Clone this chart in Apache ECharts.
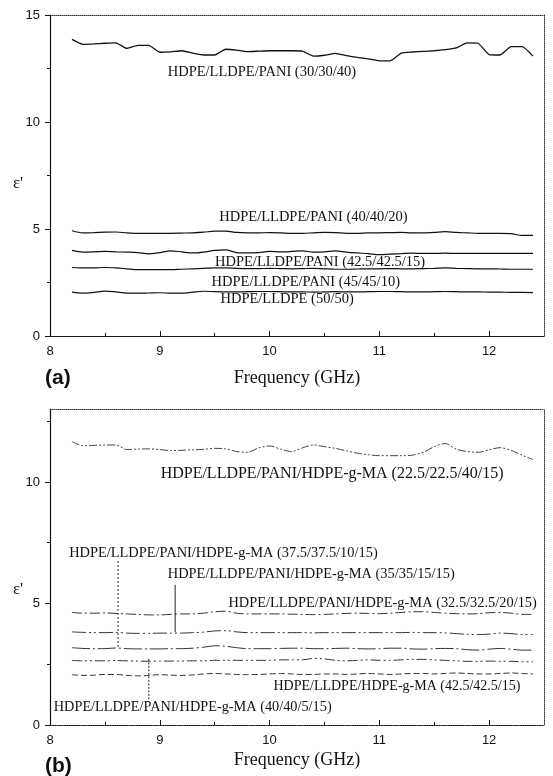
<!DOCTYPE html>
<html><head><meta charset="utf-8">
<script src="https://cdn.jsdelivr.net/npm/echarts@6/dist/echarts.min.js"></script>
<style>html,body{margin:0;padding:0;background:#fff}#c{width:553px;height:776px}</style>
</head><body><div id="c"></div>
<script>
// Frequency grid (GHz)
var freq = [8.2,8.3,8.4,8.5,8.6,8.7,8.8,8.9,9.0,9.1,9.2,9.3,9.4,9.5,9.6,9.7,9.8,9.9,10.0,10.1,10.2,10.3,10.4,10.5,10.6,10.7,10.8,10.9,11.0,11.1,11.2,11.3,11.4,11.5,11.6,11.7,11.8,11.9,12.0,12.1,12.2,12.3,12.4];

// Panel (a)
var a_30_30_40 = [13.86,13.63,13.65,13.68,13.70,13.44,13.58,13.58,13.26,13.28,13.33,13.22,13.13,13.13,13.40,13.36,13.29,13.31,13.33,13.33,13.33,13.31,13.08,13.12,13.21,13.10,13.02,12.95,12.86,12.86,13.22,13.27,13.30,13.33,13.38,13.46,13.70,13.68,13.15,13.13,13.52,13.52,13.08];
var a_40_40_20 = [4.92,4.82,4.83,4.85,4.86,4.82,4.80,4.80,4.80,4.80,4.81,4.82,4.85,4.90,4.90,4.84,4.82,4.82,4.83,4.82,4.80,4.80,4.82,4.84,4.83,4.80,4.80,4.82,4.82,4.83,4.84,4.82,4.82,4.84,4.88,4.84,4.82,4.80,4.80,4.80,4.78,4.70,4.70];
var a_425_425_15 = [4.00,3.92,3.93,3.95,3.93,3.92,3.90,3.84,3.90,3.98,3.93,3.88,3.92,4.00,4.02,3.90,3.88,3.90,3.95,3.93,3.95,3.98,3.92,3.93,3.98,3.92,3.88,3.85,3.80,3.83,3.85,3.87,3.86,3.86,3.87,3.86,3.86,3.86,3.86,3.86,3.86,3.86,3.86];
var a_45_45_10 = [3.20,3.18,3.18,3.20,3.18,3.14,3.10,3.10,3.10,3.10,3.12,3.14,3.16,3.18,3.18,3.16,3.15,3.15,3.16,3.15,3.14,3.15,3.16,3.14,3.12,3.12,3.13,3.14,3.14,3.15,3.14,3.14,3.15,3.16,3.18,3.16,3.15,3.14,3.14,3.13,3.12,3.12,3.12];
var a_50_50 = [2.05,2.00,2.04,2.10,2.06,2.00,2.00,2.01,2.02,2.00,2.00,2.05,2.09,2.07,2.06,2.06,2.07,2.08,2.08,2.07,2.06,2.06,2.05,2.06,2.07,2.06,2.06,2.07,2.08,2.08,2.07,2.06,2.06,2.07,2.08,2.07,2.06,2.06,2.05,2.05,2.04,2.04,2.03];

// Panel (b)
var b_225 = [11.66,11.49,11.50,11.52,11.52,11.33,11.35,11.36,11.33,11.29,11.30,11.32,11.34,11.38,11.36,11.25,11.22,11.40,11.48,11.35,11.25,11.40,11.52,11.45,11.38,11.28,11.18,11.12,11.08,11.08,11.08,11.10,11.22,11.45,11.58,11.35,11.25,11.22,11.32,11.41,11.30,11.10,10.92];
var b_325 = [4.63,4.60,4.60,4.61,4.59,4.57,4.55,4.53,4.53,4.55,4.57,4.57,4.60,4.66,4.68,4.60,4.57,4.57,4.57,4.57,4.56,4.55,4.54,4.55,4.57,4.59,4.60,4.59,4.58,4.60,4.63,4.66,4.66,4.63,4.60,4.58,4.57,4.58,4.62,4.63,4.60,4.55,4.55];
var b_35 = [3.83,3.81,3.80,3.80,3.81,3.78,3.77,3.77,3.78,3.78,3.78,3.80,3.82,3.87,3.88,3.83,3.80,3.80,3.80,3.80,3.80,3.80,3.79,3.80,3.80,3.80,3.80,3.80,3.80,3.80,3.80,3.81,3.80,3.80,3.79,3.76,3.73,3.72,3.74,3.78,3.76,3.72,3.72];
var b_375 = [3.18,3.15,3.14,3.14,3.17,3.14,3.13,3.13,3.13,3.14,3.14,3.16,3.20,3.26,3.24,3.18,3.14,3.14,3.14,3.15,3.16,3.16,3.14,3.14,3.15,3.16,3.14,3.13,3.14,3.16,3.16,3.13,3.12,3.14,3.15,3.14,3.10,3.08,3.12,3.15,3.12,3.08,3.08];
var b_40 = [2.66,2.64,2.64,2.64,2.65,2.64,2.63,2.62,2.63,2.63,2.63,2.64,2.64,2.66,2.66,2.66,2.66,2.66,2.66,2.68,2.68,2.68,2.74,2.72,2.66,2.64,2.66,2.68,2.66,2.66,2.68,2.70,2.70,2.68,2.66,2.64,2.62,2.62,2.63,2.62,2.62,2.60,2.60];
var b_425 = [2.07,2.04,2.05,2.08,2.08,2.04,2.02,2.04,2.07,2.05,2.04,2.06,2.10,2.12,2.10,2.08,2.07,2.08,2.10,2.12,2.10,2.08,2.08,2.10,2.10,2.08,2.10,2.12,2.10,2.08,2.10,2.12,2.12,2.10,2.12,2.14,2.12,2.10,2.10,2.12,2.14,2.12,2.10];

// Leader lines in panel (b)
var lead1 = [[8.62, 6.75], [8.62, 3.17]];
var lead2 = [[9.14, 5.77], [9.14, 3.82]];
var lead3 = [[8.90, 2.72], [8.90, 0.95]];

// Tick values
var xMajor = [8, 9, 10, 11, 12];
var xMinor = [8.5, 9.5, 10.5, 11.5];
var yMajorA = [0, 5, 10, 15];
var yMajorB = [0, 5, 10];
var yMinor = [2.5, 7.5, 12.5];

// Labels: [text, x, y, fontSize]
var labelsA = [
  ['HDPE/LLDPE/PANI (30/30/40)', 9.93, 12.34, 14.5],
  ['HDPE/LLDPE/PANI (40/40/20)', 10.40, 5.56, 14.5],
  ['HDPE/LLDPE/PANI (42.5/42.5/15)', 10.46, 3.46, 14.5],
  ['HDPE/LLDPE/PANI (45/45/10)', 10.33, 2.50, 14.5],
  ['HDPE/LLDPE (50/50)', 10.16, 1.72, 14.5]
];
var labelsB = [
  ['HDPE/LLDPE/PANI/HDPE-g-MA (22.5/22.5/40/15)', 10.57, 10.35, 16],
  ['HDPE/LLDPE/PANI/HDPE-g-MA (37.5/37.5/10/15)', 9.58, 7.08, 14.4],
  ['HDPE/LLDPE/PANI/HDPE-g-MA (35/35/15/15)', 10.38, 6.22, 14.4],
  ['HDPE/LLDPE/PANI/HDPE-g-MA (32.5/32.5/20/15)', 11.03, 5.03, 14.4],
  ['HDPE/LLDPE/HDPE-g-MA (42.5/42.5/15)', 11.16, 1.60, 14.0],
  ['HDPE/LLDPE/PANI/HDPE-g-MA (40/40/5/15)', 9.30, 0.74, 14.3]
];

function pts(v){ return freq.map(function(f,i){ return [f, v[i]]; }); }

var serif = "'Liberation Serif','Times New Roman',serif";
var sans = "'Liberation Sans',Arial,sans-serif";

function mainX(grid, dotted){
  return {type:'value', gridIndex:grid, position:'bottom', min:8, max:12.5,
    axisLine:{show:true, onZero:false, lineStyle:{color:'#111', width:1.2, type: dotted?'dotted':'solid'}},
    axisTick:{show:true, inside:true, length:5, customValues:xMajor, lineStyle:{color:'#111'}},
    axisLabel:{show:true, customValues:xMajor, margin:9, color:'#111', fontSize:13, fontFamily:sans},
    splitLine:{show:false},
    name:'Frequency (GHz)', nameLocation:'middle', nameGap: grid===0?33:26,
    nameTextStyle:{fontFamily:serif, fontSize:18, color:'#111'}};
}
function minorX(grid){
  return {type:'value', gridIndex:grid, position:'bottom', min:8, max:12.5,
    axisLine:{show:false}, axisLabel:{show:false}, splitLine:{show:false},
    axisTick:{show:true, inside:true, length:3, customValues:xMinor, lineStyle:{color:'#111'}}};
}
function topX(grid){
  return {type:'value', gridIndex:grid, position:'top', min:8, max:12.5,
    axisLine:{show:true, onZero:false, lineStyle:{color:'#333', width:1, type:'dotted'}},
    axisTick:{show:false}, axisLabel:{show:false}, splitLine:{show:false}};
}
function mainY(grid, max, vals){
  return {type:'value', gridIndex:grid, position:'left', min:0, max:max,
    axisLine:{show:true, onZero:false, lineStyle:{color:'#111', width:1.2}},
    axisTick:{show:true, inside:false, length:5, customValues:vals, lineStyle:{color:'#111'}},
    axisLabel:{show:true, customValues:vals, margin:10, color:'#111', fontSize:13, fontFamily:sans},
    splitLine:{show:false}};
}
function minorY(grid, max){
  return {type:'value', gridIndex:grid, position:'left', min:0, max:max,
    axisLine:{show:false}, axisLabel:{show:false}, splitLine:{show:false},
    axisTick:{show:true, inside:false, length:3, customValues:yMinor, lineStyle:{color:'#111'}}};
}
function rightY(grid, max){
  return {type:'value', gridIndex:grid, position:'right', min:0, max:max,
    axisLine:{show:true, onZero:false, lineStyle:{color:'#333', width:1, type:'dotted'}},
    axisTick:{show:false}, axisLabel:{show:false}, splitLine:{show:false}};
}

function line(name, data, xi, yi, style, sm){
  return {type:'line', name:name, xAxisIndex:xi, yAxisIndex:yi, data:pts(data),
    showSymbol:false, smooth:sm, silent:true, animation:false,
    lineStyle:style};
}
function lead(data, type){
  return {type:'line', xAxisIndex:3, yAxisIndex:3, data:data, showSymbol:false,
    silent:true, animation:false, lineStyle:{color:'#222', width:1, type:type}};
}

var chart = echarts.init(document.getElementById('c'), null, {renderer:'canvas'});
var solidA = {color:'#111', width:1.3, type:'solid'};
var solidA2 = {color:'#111', width:1.2, type:'solid'};
chart.setOption({
  animation:false,
  backgroundColor:'#fff',
  grid:[
    {left:50, right:9, top:15, height:321},
    {left:50, right:9, top:409, height:316}
  ],
  xAxis:[mainX(0,false), minorX(0), topX(0), mainX(1,true), minorX(1), topX(1)],
  yAxis:[mainY(0,15,yMajorA), minorY(0,15), rightY(0,15), mainY(1,13,yMajorB), minorY(1,13), rightY(1,13)],
  series:[
    line('HDPE/LLDPE/PANI (30/30/40)', a_30_30_40, 0, 0, solidA, 0.15),
    line('HDPE/LLDPE/PANI (40/40/20)', a_40_40_20, 0, 0, solidA2, 0.3),
    line('HDPE/LLDPE/PANI (42.5/42.5/15)', a_425_425_15, 0, 0, solidA2, 0.3),
    line('HDPE/LLDPE/PANI (45/45/10)', a_45_45_10, 0, 0, solidA2, 0.3),
    line('HDPE/LLDPE (50/50)', a_50_50, 0, 0, solidA2, 0.3),
    line('HDPE/LLDPE/PANI/HDPE-g-MA (22.5/22.5/40/15)', b_225, 3, 3, {color:'#444', width:1, type:[8,2,2,2,2,2]}, 0.3),
    line('HDPE/LLDPE/PANI/HDPE-g-MA (32.5/32.5/20/15)', b_325, 3, 3, {color:'#333', width:1, type:[10,3,2,3]}, 0.3),
    line('HDPE/LLDPE/PANI/HDPE-g-MA (35/35/15/15)', b_35, 3, 3, {color:'#333', width:1, type:[14,3,2,3,2,3]}, 0.3),
    line('HDPE/LLDPE/PANI/HDPE-g-MA (37.5/37.5/10/15)', b_375, 3, 3, {color:'#333', width:1, type:[18,3,2,3]}, 0.3),
    line('HDPE/LLDPE/PANI/HDPE-g-MA (40/40/5/15)', b_40, 3, 3, {color:'#333', width:1, type:[10,3,2,3,2,3]}, 0.3),
    line('HDPE/LLDPE/HDPE-g-MA (42.5/42.5/15)', b_425, 3, 3, {color:'#333', width:1, type:[6,3]}, 0.3),
    lead(lead1, [2,2]),
    lead(lead2, 'solid'),
    lead(lead3, [2,1.5])
  ]
});

var g = [];
function addLabels(list, gridIndex){
  list.forEach(function(l){
    var p = chart.convertToPixel({gridIndex:gridIndex}, [l[1], l[2]]);
    g.push({type:'text', x:p[0], y:p[1], silent:true,
      style:{text:l[0], font: l[3] + "px " + serif, fill:'#111', align:'center', verticalAlign:'middle'}});
  });
}
addLabels(labelsA, 0);
addLabels(labelsB, 1);
g.push({type:'text', x:18, y:184, style:{text:"ε'", font:"17px " + serif, fill:'#111', align:'center', verticalAlign:'middle'}});
g.push({type:'text', x:18, y:590, style:{text:"ε'", font:"17px " + serif, fill:'#111', align:'center', verticalAlign:'middle'}});
g.push({type:'text', x:45, y:378, style:{text:'(a)', font:"bold 21px " + sans, fill:'#111', align:'left', verticalAlign:'middle'}});
g.push({type:'text', x:45, y:766, style:{text:'(b)', font:"bold 21px " + sans, fill:'#111', align:'left', verticalAlign:'middle'}});
chart.setOption({graphic:g});
</script>
</body></html>
